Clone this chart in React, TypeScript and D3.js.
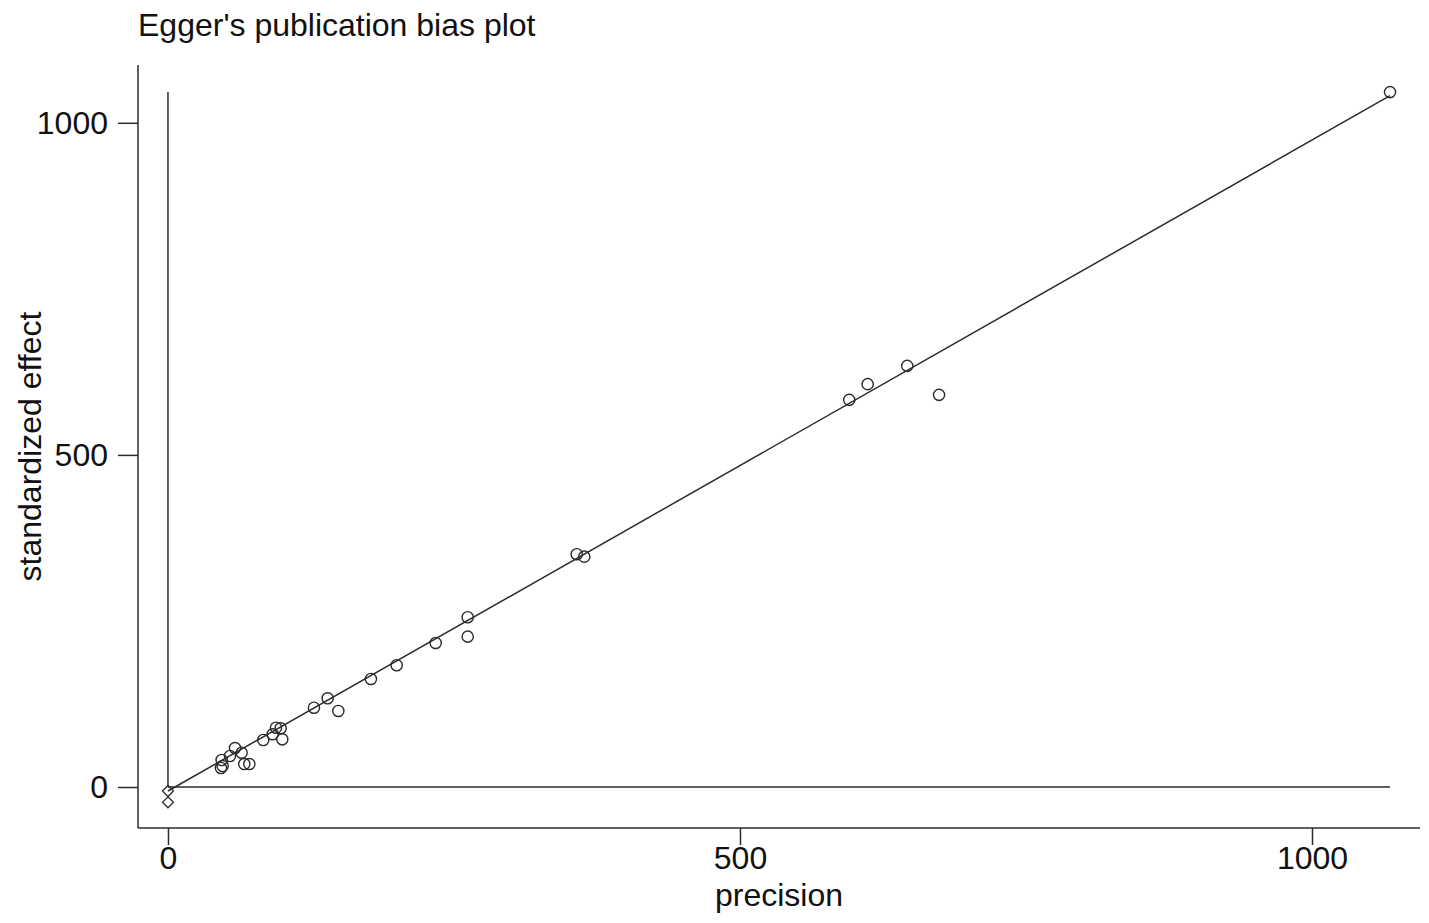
import { useEffect, useRef } from "react";
import * as d3 from "d3";

// study points: precision (1/se) and standardized effect (effect/se)
const precision = [46.9, 47.8, 46.3, 54.2, 58.6, 64.4, 66.7, 71.1, 83.3, 91.5, 94.4, 98.5, 99.9,
  127.6, 139.6, 148.9, 177.4, 199.9, 234.0, 262.0, 262.0, 357.3, 363.9, 595.5, 611.6, 646.2, 674.0, 1068.2];
const stdEffect = [40.7, 31.6, 28.6, 46.7, 58.7, 51.7, 34.6, 34.6, 70.8, 79.4, 89.3, 88.4, 71.8,
  119.4, 133.6, 114.5, 162.7, 183.3, 216.9, 255.6, 226.4, 350.5, 346.8, 582.8, 606.5, 634.0, 590.4, 1046.2];

// Egger intercept and its lower bound, shown as diamonds at precision 0
const interceptMarks = [-6, -23];
const fitIntercept = -6;
const fitSlope = 0.98;

const xTicks = [0, 500, 1000];
const yTicks = [0, 500, 1000];

const W = 1429;
const H = 923;

const EggerPlot = () => {
  const svgRef = useRef<SVGSVGElement>(null);

  useEffect(() => {
    const svg = d3.select(svgRef.current);
    svg.selectAll("*").remove();

    const left = 138, right = 1420, top = 65, bottom = 828;
    const ink = "#2b2b2b";
    const font = "'Liberation Sans', Arial, sans-serif";

    const x = d3.scaleLinear().domain([-26.2, 1094.4]).range([left, right]);
    const y = d3.scaleLinear().domain([-61.7, 1087]).range([bottom, top]);

    const data = precision.map((p, i) => ({ p, e: stdEffect[i] }));
    const maxP = d3.max(precision) as number;
    const maxE = d3.max(stdEffect) as number;

    svg.append("rect").attr("width", W).attr("height", H).attr("fill", "#fff");

    // title
    svg.append("text")
      .attr("x", left)
      .attr("y", 36)
      .attr("font-family", font)
      .attr("font-size", 32)
      .attr("fill", "#111")
      .text("Egger's publication bias plot");

    // y axis
    const yAxis = svg.append("g").attr("transform", `translate(${left},0)`)
      .call(d3.axisLeft(y).tickValues(yTicks).tickSize(20).tickPadding(10).tickFormat(d3.format("d")));
    yAxis.select(".domain").attr("d", `M0,${top}V${bottom}`);
    // x axis
    const xAxis = svg.append("g").attr("transform", `translate(0,${bottom})`)
      .call(d3.axisBottom(x).tickValues(xTicks).tickSize(17).tickPadding(1).tickFormat(d3.format("d")));
    xAxis.select(".domain").attr("d", `M${left},0H${right}`);

    svg.selectAll(".domain, .tick line").attr("stroke", ink).attr("stroke-width", 1.5);
    svg.selectAll(".tick text")
      .attr("font-family", font)
      .attr("font-size", 32)
      .attr("fill", "#111");

    // axis titles
    svg.append("text")
      .attr("x", (left + right) / 2)
      .attr("y", 906)
      .attr("text-anchor", "middle")
      .attr("font-family", font)
      .attr("font-size", 32)
      .attr("fill", "#111")
      .text("precision");

    svg.append("text")
      .attr("transform", `translate(41,${(top + bottom) / 2}) rotate(-90)`)
      .attr("text-anchor", "middle")
      .attr("font-family", font)
      .attr("font-size", 32)
      .attr("fill", "#111")
      .text("standardized effect");

    // reference lines at x=0 and y=0
    svg.append("line")
      .attr("x1", x(0)).attr("x2", x(0))
      .attr("y1", y(0)).attr("y2", y(maxE))
      .attr("stroke", ink).attr("stroke-width", 1.5);
    svg.append("line")
      .attr("x1", x(0)).attr("x2", x(maxP))
      .attr("y1", y(0)).attr("y2", y(0))
      .attr("stroke", ink).attr("stroke-width", 1.5);

    // regression line
    const line = d3.line<number>()
      .x(d => x(d))
      .y(d => y(fitIntercept + fitSlope * d));
    svg.append("path")
      .datum([0, maxP])
      .attr("d", line)
      .attr("fill", "none")
      .attr("stroke", ink)
      .attr("stroke-width", 1.5);

    // intercept diamonds
    svg.selectAll("path.diamond")
      .data(interceptMarks)
      .enter()
      .append("path")
      .attr("class", "diamond")
      .attr("transform", d => `translate(${x(0)},${y(d)})`)
      .attr("d", "M0,-5.5L5.5,0L0,5.5L-5.5,0Z")
      .attr("fill", "none")
      .attr("stroke", ink)
      .attr("stroke-width", 1.3);

    // study points
    svg.selectAll("circle")
      .data(data)
      .enter()
      .append("circle")
      .attr("cx", d => x(d.p))
      .attr("cy", d => y(d.e))
      .attr("r", 5.6)
      .attr("fill", "none")
      .attr("stroke", ink)
      .attr("stroke-width", 1.4);
  }, []);

  return <svg ref={svgRef} width={W} height={H} style={{ position: "absolute", left: 0, top: 0 }} />;
};

export default function App() {
  return <EggerPlot />;
}
